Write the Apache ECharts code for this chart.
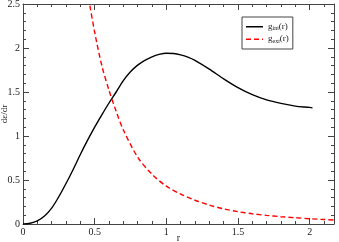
<!DOCTYPE html>
<html><head><meta charset="utf-8">
<script src="https://cdn.jsdelivr.net/npm/echarts@6/dist/echarts.min.js"></script>
<style>html,body{margin:0;padding:0;background:#fff}#c{width:339px;height:242px}</style>
</head><body><div id="c"></div>
<script>
var rInt = [0,0.05,0.1,0.15,0.2,0.25,0.3,0.35,0.4,0.45,0.5,0.55,0.6,0.65,0.7,0.75,0.8,0.85,0.9,0.95,1.0,1.05,1.1,1.15,1.2,1.3,1.4,1.5,1.6,1.7,1.8,1.9,2.0,2.02];
var gInt = [0,0.008,0.035,0.09,0.18,0.31,0.46,0.62,0.79,0.95,1.1,1.24,1.375,1.5,1.63,1.73,1.805,1.86,1.9,1.927,1.94,1.937,1.922,1.897,1.86,1.76,1.65,1.55,1.47,1.41,1.37,1.34,1.325,1.32];
var rExt = [0.44,0.465,0.5,0.55,0.6,0.65,0.7,0.8,0.9,1.0,1.1,1.2,1.3,1.4,1.5,1.6,1.7,1.8,1.9,2.0,2.1,2.17];
var gExt = [2.75,2.5,2.18,1.8,1.52,1.28,1.07,0.76,0.565,0.43,0.34,0.27,0.215,0.172,0.14,0.116,0.098,0.083,0.071,0.06,0.051,0.046];
var xMajor = [0,0.5,1,1.5,2];
var xMinor = [0.1,0.2,0.3,0.4,0.6,0.7,0.8,0.9,1.1,1.2,1.3,1.4,1.6,1.7,1.8,1.9,2.1];
var yMajor = [0,0.5,1,1.5,2,2.5];
var yMinor = [0.1,0.2,0.3,0.4,0.6,0.7,0.8,0.9,1.1,1.2,1.3,1.4,1.6,1.7,1.8,1.9,2.1,2.2,2.3,2.4];
var xLabels = ['0','0.5','1','1.5','2'];
var yLabels = ['0','0.5','1','1.5','2','2.5'];

var FONT = 'Liberation Serif';
var LC = '#444';
function xa(pos, major, labels, show) {
  return {
    type:'value', min:0, max:2.17, position:pos, offset:0,
    axisLine:{show:show, onZero:false, lineStyle:{color:LC, width:1}},
    axisTick:{show:true, inside:true, length: major ? 6 : 3, customValues: major ? xMajor : xMinor, lineStyle:{color:LC}},
    axisLabel:{show:labels, customValues:xMajor, formatter:function(v){var i=xMajor.indexOf(v);return i>=0?xLabels[i]:'';}, fontFamily:FONT, fontSize:10, color:'#222', margin:3},
    splitLine:{show:false},
    name: labels ? 'r' : '', nameLocation:'middle', nameGap:9, nameMoveOverlap:false,
    nameTextStyle:{fontFamily:FONT, fontSize:10, color:'#222'}
  };
}
function ya(pos, major, labels, show) {
  return {
    type:'value', min:0, max:2.5, position:pos, offset:0,
    axisLine:{show:show, onZero:false, lineStyle:{color:LC, width:1}},
    axisTick:{show:true, inside:true, length: major ? 6 : 3, customValues: major ? yMajor : yMinor, lineStyle:{color:LC}},
    axisLabel:{show:labels, customValues:yMajor, formatter:function(v){var i=yMajor.indexOf(v);return i>=0?yLabels[i]:'';}, fontFamily:FONT, fontSize:10, color:'#222', margin:3},
    splitLine:{show:false},
    name: labels ? 'dε/dr' : '', nameLocation:'middle', nameGap:14, nameRotate:90, nameMoveOverlap:false,
    nameTextStyle:{fontFamily:FONT, fontSize:9, color:'#222'}
  };
}
function pairs(xs, ys){return xs.map(function(x,i){return [x, ys[i]];});}

var chart = echarts.init(document.getElementById('c'), null, {renderer:'canvas'});
chart.setOption({
  animation:false,
  backgroundColor:'#fff',
  grid:{left:23, right:5, top:4, bottom:18, containLabel:false, outerBoundsMode:'none'},
  xAxis:[xa('bottom',true,true,true), xa('bottom',false,false,false), xa('top',true,false,true), xa('top',false,false,false)],
  yAxis:[ya('left',true,true,true), ya('left',false,false,false), ya('right',true,false,true), ya('right',false,false,false)],
  legend:{
    orient:'vertical', left:242, top:17, itemWidth:17, itemHeight:9, itemGap:3,
    padding:[5,4,5,4], borderColor:'#444', borderWidth:1, backgroundColor:'#fff',
    data:[
      {name:'int', icon:'path://M0,4h17v1.4h-17z M0,0h0.01v9h-0.01z'},
      {name:'ext', icon:'path://M0,4h5v1.4h-5z M8,4h5v1.4h-5z M16,4h1v1.4h-1z M0,0h0.01v9h-0.01z'}
    ],
    formatter:function(n){return '{m|g}{s|'+n+'}{m|(r)}';},
    textStyle:{fontFamily:FONT, fontSize:9, color:'#222',
      rich:{m:{fontFamily:FONT, fontSize:9, color:'#222'}, s:{fontFamily:FONT, fontSize:6, color:'#222', verticalAlign:'bottom', padding:[4,0,0,0]}}}
  },
  series:[
    {name:'int', type:'line', data:pairs(rInt,gInt), showSymbol:false, symbol:'none', smooth:0.3,
     lineStyle:{color:'#000', width:1.4}, itemStyle:{color:'#000'}, clip:true},
    {name:'ext', type:'line', data:pairs(rExt,gExt), showSymbol:false, symbol:'none', smooth:0.3,
     lineStyle:{color:'#ff0000', width:1.4, type:[5,3]}, itemStyle:{color:'#ff0000'}, clip:true}
  ]
});
</script></body></html>
